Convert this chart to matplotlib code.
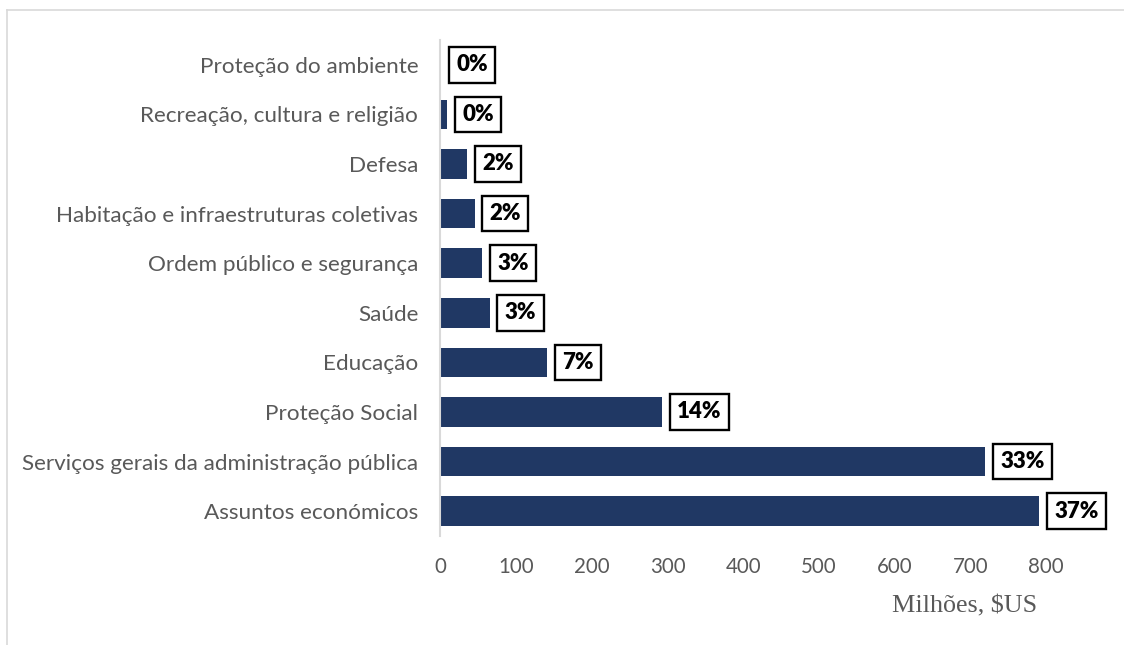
import matplotlib
matplotlib.use("Agg")
import matplotlib.pyplot as plt
from matplotlib.lines import Line2D

categories = [
    "Assuntos económicos",
    "Serviços gerais da administração pública",
    "Proteção Social",
    "Educação",
    "Saúde",
    "Ordem público e segurança",
    "Habitação e infraestruturas coletivas",
    "Defesa",
    "Recreação, cultura e religião",
    "Proteção do ambiente",
]
values = [791, 720, 293, 141, 65, 55, 45, 35, 9, 1]
pct_labels = ["37%", "33%", "14%", "7%", "3%", "3%", "2%", "2%", "0%", "0%"]
xticks = [0, 100, 200, 300, 400, 500, 600, 700, 800]
xlabel = "Milhões, $US"

W, H = 1124, 645
fig = plt.figure(figsize=(W / 100, H / 100), dpi=100)
left_px, right_px, top_px, bottom_px = 440.5, 1046, 40, 536
ax = fig.add_axes([left_px / W, 1 - bottom_px / H, (right_px - left_px) / W, (bottom_px - top_px) / H])

ypos = list(range(len(categories)))
ax.barh(ypos, values, height=0.6, color="#203864", zorder=2)
ax.set_xlim(0, 800)
ax.set_ylim(-0.5, len(categories) - 0.5)
ax.set_yticks(ypos)
ax.set_yticklabels(categories, fontsize=16.2, color="#595959", family="Lato")
ax.set_xticks(xticks)
ax.set_xticklabels([str(t) for t in xticks], fontsize=14.8, color="#595959", family="Lato")
ax.tick_params(axis="y", length=0, pad=16)
ax.tick_params(axis="x", length=0, pad=15)
for s in ["top", "right", "bottom"]:
    ax.spines[s].set_visible(False)
ax.spines["left"].set_color("#d9d9d9")
ax.spines["left"].set_linewidth(1.5)

for y, v, lab in zip(ypos, values, pct_labels):
    ax.annotate(lab, xy=(v, y), xytext=(15, 0), textcoords="offset pixels",
                ha="left", va="center", fontsize=16, fontweight="heavy",
                family="Lato", color="black", annotation_clip=False,
                bbox=dict(boxstyle="square,pad=0.33", fc="white", ec="black", lw=1.7))

fig.text(965 / W, 1 - 606 / H, xlabel, ha="center", va="center",
         fontsize=18.8, color="#595959", family="Liberation Serif")

# outer frame (top and left)
fig.add_artist(Line2D([7 / W, 1], [1 - 10 / H, 1 - 10 / H], transform=fig.transFigure, color="#d9d9d9", lw=1.2))
fig.add_artist(Line2D([7 / W, 7 / W], [1 - 10 / H, 0], transform=fig.transFigure, color="#d9d9d9", lw=1.2))

fig.savefig("out.png", dpi=100)
